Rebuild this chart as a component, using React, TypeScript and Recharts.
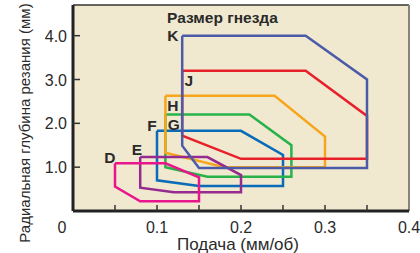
import { LineChart, Line, XAxis, YAxis, CartesianGrid, ReferenceLine, ReferenceDot } from 'recharts'

// feed (mm/rev) vs radial depth of cut (mm), one outline per pocket size
const sizeD = [
  { x: 0.05, y: 1.09 }, { x: 0.11, y: 1.09 }, { x: 0.15, y: 0.77 }, { x: 0.15, y: 0.22 },
  { x: 0.08, y: 0.22 }, { x: 0.05, y: 0.56 }, { x: 0.05, y: 1.09 },
]
const sizeE = [
  { x: 0.08, y: 1.23 }, { x: 0.16, y: 1.23 }, { x: 0.2, y: 0.82 }, { x: 0.2, y: 0.43 },
  { x: 0.12, y: 0.43 }, { x: 0.08, y: 0.53 }, { x: 0.08, y: 1.23 },
]
const sizeF = [
  { x: 0.1, y: 1.83 }, { x: 0.2, y: 1.83 }, { x: 0.25, y: 1.28 }, { x: 0.25, y: 0.57 },
  { x: 0.15, y: 0.57 }, { x: 0.1, y: 0.7 }, { x: 0.1, y: 1.83 },
]
const sizeG = [
  { x: 0.11, y: 2.2 }, { x: 0.21, y: 2.2 }, { x: 0.26, y: 1.5 }, { x: 0.26, y: 0.78 },
  { x: 0.16, y: 0.78 }, { x: 0.11, y: 1.0 }, { x: 0.11, y: 2.2 },
]
const sizeH = [
  { x: 0.11, y: 2.63 }, { x: 0.24, y: 2.63 }, { x: 0.3, y: 1.7 }, { x: 0.3, y: 1.0 },
  { x: 0.18, y: 1.0 }, { x: 0.11, y: 1.33 }, { x: 0.11, y: 2.63 },
]
const sizeJ = [
  { x: 0.13, y: 3.2 }, { x: 0.277, y: 3.2 }, { x: 0.35, y: 2.17 }, { x: 0.35, y: 1.19 },
  { x: 0.2, y: 1.19 }, { x: 0.13, y: 1.72 }, { x: 0.13, y: 3.2 },
]
const sizeK = [
  { x: 0.13, y: 4.0 }, { x: 0.277, y: 4.0 }, { x: 0.35, y: 3.0 }, { x: 0.35, y: 0.98 },
  { x: 0.15, y: 0.98 }, { x: 0.13, y: 1.49 }, { x: 0.13, y: 4.0 },
]

const feedTicks = [0, 0.05, 0.1, 0.15, 0.2, 0.25, 0.3, 0.35, 0.4]
const feedTickLabels = ['0', '', '0.1', '', '0.2', '', '0.3', '', '0.4']
const depthTicks = [1, 2, 3, 4]
const depthTickLabels = ['1.0', '2.0', '3.0', '4.0']

const sizeLabels = [
  { name: 'K', x: 0.119, y: 4.0 },
  { name: 'J', x: 0.138, y: 2.97 },
  { name: 'H', x: 0.119, y: 2.4 },
  { name: 'G', x: 0.12, y: 1.98 },
  { name: 'F', x: 0.094, y: 1.94 },
  { name: 'E', x: 0.076, y: 1.41 },
  { name: 'D', x: 0.044, y: 1.23 },
]

const series = [
  { key: 'F', data: sizeF, color: '#0a6cb8' },
  { key: 'G', data: sizeG, color: '#27b24a' },
  { key: 'H', data: sizeH, color: '#f7a51c' },
  { key: 'E', data: sizeE, color: '#962a8e' },
  { key: 'D', data: sizeD, color: '#e8158c' },
  { key: 'J', data: sizeJ, color: '#e8202a' },
  { key: 'K', data: sizeK, color: '#4b5ba8' },
]

const font = '"Liberation Sans", Arial, sans-serif'
const textColor = '#2a2a2a'

function FeedTick(props: any) {
  const { x, y, index } = props
  const label = feedTickLabels[index]
  const showMark = index > 0 && index < feedTicks.length - 1
  return (
    <g>
      {showMark && <line x1={x} y1={y} x2={x} y2={y - 6} stroke="#333" strokeWidth={1.5} />}
      <text x={index === 0 ? x - 11 : x} y={y + 22} textAnchor="middle" fontSize={16} fill={textColor} fontFamily={font}>
        {label}
      </text>
    </g>
  )
}

function DepthTick(props: any) {
  const { x, y, index } = props
  return (
    <g>
      <line x1={x} y1={y} x2={x + 7} y2={y} stroke="#333" strokeWidth={1.5} />
      <text x={x - 6} y={y + 6} textAnchor="end" fontSize={16} fill={textColor} fontFamily={font}>
        {depthTickLabels[index]}
      </text>
    </g>
  )
}

export default function App() {
  return (
    <div style={{ position: 'absolute', left: 0, top: 0, width: 420, height: 253, background: '#fff' }}>
      <LineChart width={420} height={253} margin={{ top: 5, right: 11, bottom: 0, left: 0 }}>
        <CartesianGrid horizontal={false} vertical={false} fill="#f0e9d0" />
        <XAxis
          type="number"
          dataKey="x"
          domain={[0, 0.4]}
          ticks={feedTicks}
          interval={0}
          height={42}
          tickSize={0}
          tickMargin={0}
          tickLine={false}
          tick={(p: any) => <FeedTick {...p} />}
          axisLine={{ stroke: '#222', strokeWidth: 3 }}
          label={() => (
            <text x={238} y={250} textAnchor="middle" fontSize={17} fill={textColor} fontFamily={font}>
              Подача (мм/об)
            </text>
          )}
        />
        <YAxis
          type="number"
          dataKey="y"
          domain={[0, 4.7]}
          ticks={depthTicks}
          interval={0}
          width={73}
          tickSize={0}
          tickMargin={0}
          tickLine={false}
          tick={(p: any) => <DepthTick {...p} />}
          axisLine={{ stroke: '#222', strokeWidth: 3 }}
          label={() => (
            <text
              x={24}
              y={123}
              transform="rotate(-90 24 123)"
              textAnchor="middle"
              dominantBaseline="central"
              fontSize={15}
              fill={textColor}
              fontFamily={font}
            >
              Радиальная глубина резания (мм)
            </text>
          )}
        />
        <ReferenceLine y={4.7} stroke="#333" strokeWidth={1.5} />
        <ReferenceLine x={0.4} stroke="#8a8478" strokeWidth={2} />
        {series.map((s) => (
          <Line
            key={s.key}
            data={s.data}
            dataKey="y"
            type="linear"
            stroke={s.color}
            strokeWidth={2.5}
            dot={false}
            activeDot={false}
            isAnimationActive={false}
          />
        ))}
        <ReferenceDot
          x={0.112}
          y={4.41}
          r={0}
          fill="none"
          stroke="none"
          label={{ value: 'Размер гнезда', position: 'right', offset: 0, fontSize: 15.5, fontWeight: 'bold', fill: textColor, fontFamily: font }}
        />
        {sizeLabels.map((l) => (
          <ReferenceDot
            key={l.name}
            x={l.x}
            y={l.y}
            r={0}
            fill="none"
            stroke="none"
            label={{ value: l.name, position: 'center', fontSize: 15.5, fontWeight: 'bold', fill: textColor, fontFamily: font }}
          />
        ))}
      </LineChart>
    </div>
  )
}
